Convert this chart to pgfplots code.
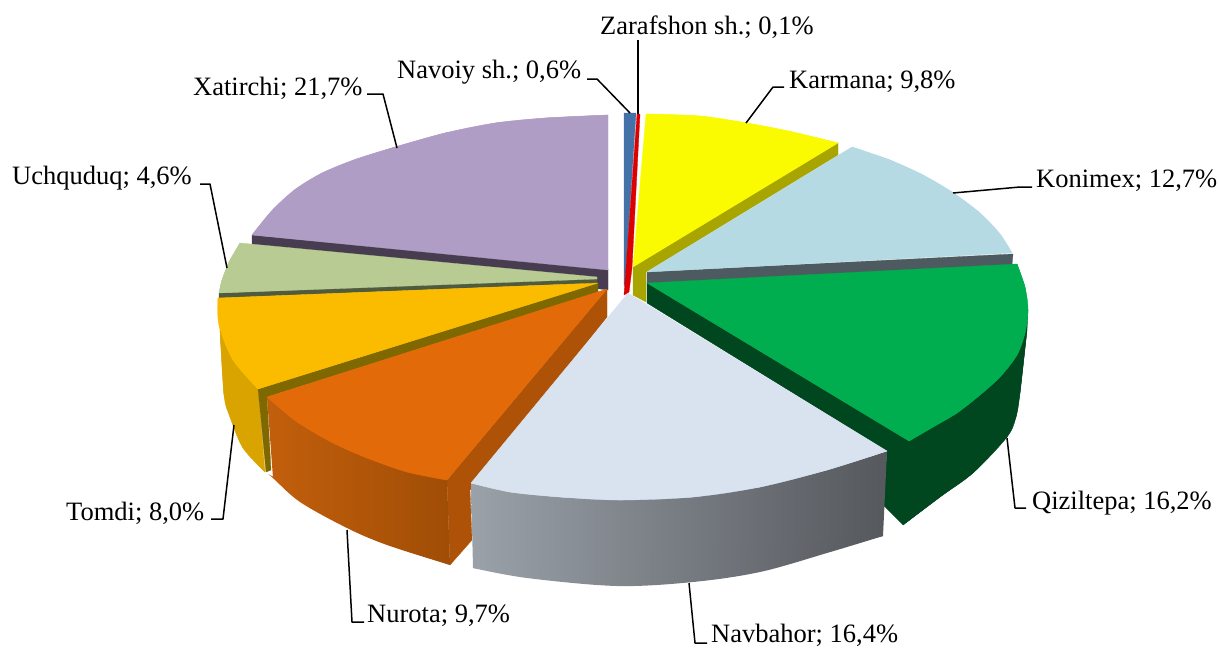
\documentclass[border=0pt]{standalone}
\usepackage{fontspec}
\setmainfont{Liberation Serif}
\usepackage{pgfplots}
\pgfplotsset{compat=1.18}
\definecolor{cPurple}{HTML}{B09DC6}
\definecolor{cPurpleD}{HTML}{483D50}
\definecolor{cBlue}{HTML}{4472A8}
\definecolor{cRed}{HTML}{DC0000}
\definecolor{cYel}{HTML}{FAFA00}
\definecolor{cYelD}{HTML}{A8A400}
\definecolor{cLB}{HTML}{B5DAE4}
\definecolor{cLBD}{HTML}{4D5B60}
\definecolor{cOl}{HTML}{B8CB92}
\definecolor{cOlD}{HTML}{4F5B3C}
\definecolor{cTo}{HTML}{FBBC00}
\definecolor{cToS}{HTML}{D9A300}
\definecolor{cToD}{HTML}{7F6800}
\definecolor{cOr}{HTML}{E26A08}
\definecolor{cOrD}{HTML}{AD5206}
\definecolor{cOrL}{HTML}{C25F0C}
\definecolor{cOrM}{HTML}{AE5407}
\definecolor{cOrR}{HTML}{A04D06}
\definecolor{cGr}{HTML}{00AE4F}
\definecolor{cGrD}{HTML}{00461F}
\definecolor{cNa}{HTML}{D9E3F0}
\definecolor{cNaL}{HTML}{9AA1A8}
\definecolor{cNaM}{HTML}{6B6F76}
\definecolor{cNaR}{HTML}{55585D}
\pgfplotsset{
  poly/.style={no markers,fill=#1,draw=#1,line width=0.3pt,line join=round},
  arc/.style={no markers,fill=#1,draw=#1,line width=0.3pt,smooth,tension=0.55},
  grad/.style={no markers,draw=none},
  lead/.style={black,line width=1.5pt,no markers,line join=round},
}
\newcommand{\lbl}[3]{\node[anchor=base west,inner sep=0pt,font=\fontsize{26.5}{30}\selectfont] at (axis cs:#1,#2) {#3};}
\begin{document}
\begin{tikzpicture}
\useasboundingbox (0,0) rectangle (1219pt,648pt);
\begin{axis}[at={(0,0)},anchor=south west,scale only axis,width=1219pt,height=648pt,
  xmin=0,xmax=1219,ymin=0,ymax=648,y dir=reverse,hide axis,clip=false]
% Xatirchi
\addplot[poly=cPurpleD] coordinates {(252,235)(608,269)(608,290)(252,245)} --cycle;
\addplot[poly=cPurple] coordinates {(608,270)(608,115)(545,118)(495,123)(445,133)(395,147)(355,159.5)(322,173)(295,189.5)(272,210.5)(252,235)} --cycle;
\addplot[arc=cPurple] coordinates {(608,115)(545,118)(495,123)(445,133)(395,147)(355,159.5)(322,173)(295,189.5)(272,210.5)(252,235)};
% Navoiy, Zarafshon
\addplot[poly=cBlue] coordinates {(624,113)(636,113)(625,285)(624,285)} --cycle;
\addplot[poly=cRed] coordinates {(637,114)(640,114)(632,268)(629,292)(624,295)} --cycle;
% Karmana
\addplot[poly=cYelD] coordinates {(633,267)(838,143)(838,155)(646,272)(646,302)(633,295)} --cycle;
\addplot[poly=cYel] coordinates {(633,267)(646,114)(700,116)(747,123)(793,132)(838,143)} --cycle;
\addplot[arc=cYel] coordinates {(646,114)(700,116)(747,123)(793,132)(838,143)};
% Konimex
\addplot[poly=cLBD] coordinates {(647,272)(1013,254)(1012,265)(647,284)} --cycle;
\addplot[poly=cLB] coordinates {(647,272)(852,147)(890,160)(923,175)(952,192)(980,213)(1000,234)(1012,253)} --cycle;
\addplot[arc=cLB] coordinates {(852,147)(890,160)(923,175)(952,192)(980,213)(1000,234)(1012,253)};
% Uchquduq
\addplot[poly=cOlD] coordinates {(219,293)(597,278)(597,283)(219,298)} --cycle;
\addplot[poly=cOl] coordinates {(597,277)(240,243)(229,262)(222,280)(219,293)(597,279)} --cycle;
\addplot[arc=cOl] coordinates {(240,243)(229,262)(222,280)(219,293)};
% Tomdi
\addplot[poly=cToS] coordinates {(218,298)(258,389)(265,472)(243,448)(230,417)(224,395)(220,330)} --cycle;
\addplot[arc=cToS] coordinates {(220,330)(224,395)(230,417)(243,448)(265,472)};
\addplot[poly=cToD] coordinates {(258,389)(598,283)(598,292)(267,397)(271,470)(266,472)} --cycle;
\addplot[poly=cTo] coordinates {(598,283)(218,298)(219,325)(233,360)(258,389)} --cycle;
\addplot[arc=cTo] coordinates {(218,298)(219,325)(233,360)(258,389)};
% Nurota
\addplot[poly=cOrD] coordinates {(447,480)(607,289)(607,317)(470,490)(472,540)(450,565)} --cycle;
\addplot[grad,left color=cOrL,middle color=cOrM,right color=cOrR] coordinates {(267,397)(447,480)(450,565)(387,542)(347,525)(300,499)(273,478)} --cycle;
\addplot[grad,smooth,tension=0.55,left color=cOrL,middle color=cOrM,right color=cOrR] coordinates {(268,474)(273,478)(300,502)(347,528)(387,545)(450,565)};
\addplot[poly=cOr] coordinates {(607,289)(267,397)(297,422)(333,443)(367,458)(407,472)(447,480)} --cycle;
\addplot[arc=cOr] coordinates {(267,397)(297,422)(333,443)(367,458)(407,472)(447,480)};
% Qiziltepa
\addplot[poly=cGrD] coordinates {(647,283)(909,441)(1028,310)(1027,330)(1020,393)(1016,417)(1007,437)(973,473)(940,497)(903,525)(883,505)(887,451)(647,303)} --cycle;
\addplot[arc=cGrD] coordinates {(1027,330)(1020,393)(1016,417)(1007,437)(973,473)(940,497)(903,525)};
\addplot[poly=cGr] coordinates {(647,283)(1017,264)(1025,287)(1028,310)(1025,333)(1017,355)(1000,377)(980,395)(957,413)(933,427)(909,441)} --cycle;
\addplot[arc=cGr] coordinates {(1017,264)(1025,287)(1028,310)(1025,333)(1017,355)(1000,377)(980,395)(957,413)(933,427)(909,441)};
% Navbahor
\addplot[grad,left color=cNaL,middle color=cNaM,right color=cNaR] coordinates {(471,483)(887,451)(883,536)(827,550)(760,569)(693,579)(617,583)(527,575)(473,568)} --cycle;
\addplot[grad,smooth,tension=0.55,left color=cNaL,middle color=cNaM,right color=cNaR] coordinates {(473,568)(527,578)(617,586)(693,582)(760,572)(827,553)(883,536)};
\addplot[poly=cNa] coordinates {(628,293)(887,451)(827,470)(760,487)(693,497)(620,500)(560,497)(510,492)(471,483)} --cycle;
\addplot[arc=cNa] coordinates {(471,483)(510,492)(560,497)(620,500)(693,497)(760,487)(827,470)(887,451)};
% leaders
\addplot[lead] coordinates {(638,40)(638,114)};
\addplot[lead] coordinates {(587,79)(597,79)(630,113)};
\addplot[lead] coordinates {(784,87)(773,87)(746,123)};
\addplot[lead] coordinates {(1032,187)(1020,187)(953,193)};
\addplot[lead] coordinates {(1026,508)(1015,508)(1007,438)};
\addplot[lead] coordinates {(707,643)(695,643)(689,583)};
\addplot[lead] coordinates {(364,622)(352,622)(347,530)};
\addplot[lead] coordinates {(211,519)(223,519)(234,425)};
\addplot[lead] coordinates {(200,184)(210,184)(227,268)};
\addplot[lead] coordinates {(367,94)(383,94)(397,148)};
% labels
\lbl{600}{34}{Zarafshon sh.; 0,1\%}
\lbl{397}{78}{Navoiy sh.; 0,6\%}
\lbl{789}{88}{Karmana; 9,8\%}
\lbl{1036}{187}{Konimex; 12,7\%}
\lbl{1032}{509}{Qiziltepa; 16,2\%}
\lbl{711}{642}{Navbahor; 16,4\%}
\lbl{367}{622}{Nurota; 9,7\%}
\lbl{66}{520}{Tomdi; 8,0\%}
\lbl{12}{184}{Uchquduq; 4,6\%}
\lbl{193}{95}{Xatirchi; 21,7\%}
\end{axis}
\end{tikzpicture}
\end{document}
